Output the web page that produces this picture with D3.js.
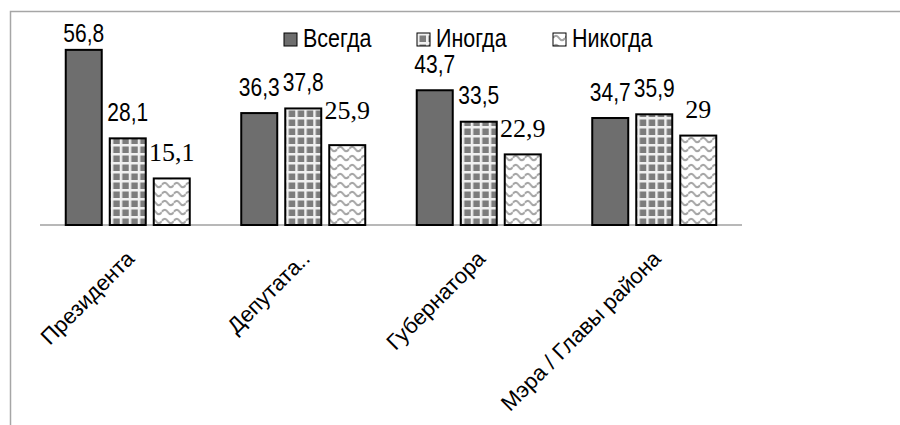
<!DOCTYPE html>
<html>
<head>
<meta charset="utf-8">
<script src="https://cdn.jsdelivr.net/npm/d3@7"></script>
<style>
  html, body { margin: 0; padding: 0; background: #fff; }
  svg { display: block; }
</style>
</head>
<body>
<svg id="chart" width="900" height="425"></svg>
<script>
// ---- data ----
const categories = ["Президента", "Депутата..", "Губернатора", "Мэра / Главы района"];
const seriesNames = ["Всегда", "Иногда", "Никогда"];
const always    = [56.8, 36.3, 43.7, 34.7];
const sometimes = [28.1, 37.8, 33.5, 35.9];
const never     = [15.1, 25.9, 22.9, 29];
const valueLabels = [
  ["56,8", "28,1", "15,1"],
  ["36,3", "37,8", "25,9"],
  ["43,7", "33,5", "22,9"],
  ["34,7", "35,9", "29"]
];
const yDomain = [0, 60];

// ---- layout / style ----
const W = 900, H = 425;
const baseY = 225, topY = 40, left = 40, right = 742;
const sans = "'Liberation Sans', Arial, sans-serif";
const serif = "'Liberation Serif', 'Times New Roman', serif";
const narrow = 0.84;

const svg = d3.select("#chart");
const defs = svg.append("defs");

// checker pattern (Иногда)
const pg = defs.append("pattern").attr("id", "grid").attr("patternUnits", "userSpaceOnUse")
  .attr("width", 9).attr("height", 9);
pg.append("rect").attr("width", 9).attr("height", 9).attr("fill", "#7c7c7c");
pg.append("rect").attr("x", 0).attr("y", 0).attr("width", 9).attr("height", 2.5).attr("fill", "#f0f0f0");
pg.append("rect").attr("x", 0).attr("y", 0).attr("width", 2.5).attr("height", 9).attr("fill", "#f0f0f0");

// wave pattern (Никогда)
const pw = defs.append("pattern").attr("id", "wave").attr("patternUnits", "userSpaceOnUse")
  .attr("width", 12).attr("height", 9);
pw.append("rect").attr("width", 12).attr("height", 9).attr("fill", "#ffffff");
pw.append("path").attr("d", "M0,5 Q3,0.5 6,5 T12,5")
  .attr("fill", "none").attr("stroke", "#a3a3a3").attr("stroke-width", 2);

const fills = ["#6e6e6e", "url(#grid)", "url(#wave)"];
const seriesData = [always, sometimes, never];

// chart frame
svg.append("rect").attr("x", 10.5).attr("y", 11.5).attr("width", W + 20).attr("height", H + 20)
  .attr("fill", "none").attr("stroke", "#a6a6a6").attr("stroke-width", 1.5);

// scales
const x0 = d3.scaleBand().domain(categories).range([left, right])
  .paddingInner(0.2934).paddingOuter(0.1467);
const x1 = d3.scaleBand().domain(seriesNames).range([0, x0.bandwidth()])
  .paddingInner(8 / 44).paddingOuter(0);
const y = d3.scaleLinear().domain(yDomain).range([baseY, topY]);

// baseline axis
svg.append("line").attr("x1", left).attr("x2", right).attr("y1", baseY).attr("y2", baseY)
  .attr("stroke", "#a0a0a0").attr("stroke-width", 1.5);

// bars
const groups = svg.selectAll("g.grp").data(categories).enter().append("g")
  .attr("class", "grp").attr("transform", c => `translate(${x0(c)},0)`);

groups.each(function(c, ci) {
  const g = d3.select(this);
  seriesNames.forEach((s, si) => {
    const v = seriesData[si][ci];
    g.append("rect")
      .attr("x", x1(s)).attr("y", y(v))
      .attr("width", x1.bandwidth()).attr("height", baseY - y(v))
      .attr("fill", fills[si]).attr("stroke", "#000").attr("stroke-width", 2);
    let ly = Math.max(y(v) - 17.5, 42);
    if (ci === 1 && si === 2) ly -= 9;
    const cx = x1(s) + x1.bandwidth() / 2;
    g.append("text")
      .attr("transform", si === 2 ? `translate(${cx},${ly})` : `translate(${cx},${ly}) scale(${narrow},1)`)
      .attr("text-anchor", "middle")
      .style("font-family", si === 2 ? serif : sans)
      .style("font-size", si === 2 ? "26px" : "25px")
      .attr("fill", "#000")
      .text(valueLabels[ci][si]);
  });
});

// category labels (rotated)
svg.selectAll("text.cat").data(categories).enter().append("text")
  .attr("class", "cat")
  .attr("transform", c => `translate(${x0(c) + x0.bandwidth() / 2 + 8},260) rotate(-45)`)
  .attr("text-anchor", "end")
  .style("font-family", sans).style("font-size", "22px").attr("fill", "#000")
  .text(c => c);

// legend
const legendX = [284, 417, 553];
const leg = svg.selectAll("g.leg").data(seriesNames).enter().append("g")
  .attr("class", "leg").attr("transform", (d, i) => `translate(${legendX[i]},33)`);
leg.append("rect").attr("width", 13).attr("height", 13)
  .attr("fill", (d, i) => fills[i]).attr("stroke", "#000").attr("stroke-width", 1);
leg.append("text").attr("transform", `translate(19,14) scale(0.86,1)`)
  .style("font-family", sans).style("font-size", "25px").attr("fill", "#000")
  .text(d => d);
</script>
</body>
</html>
